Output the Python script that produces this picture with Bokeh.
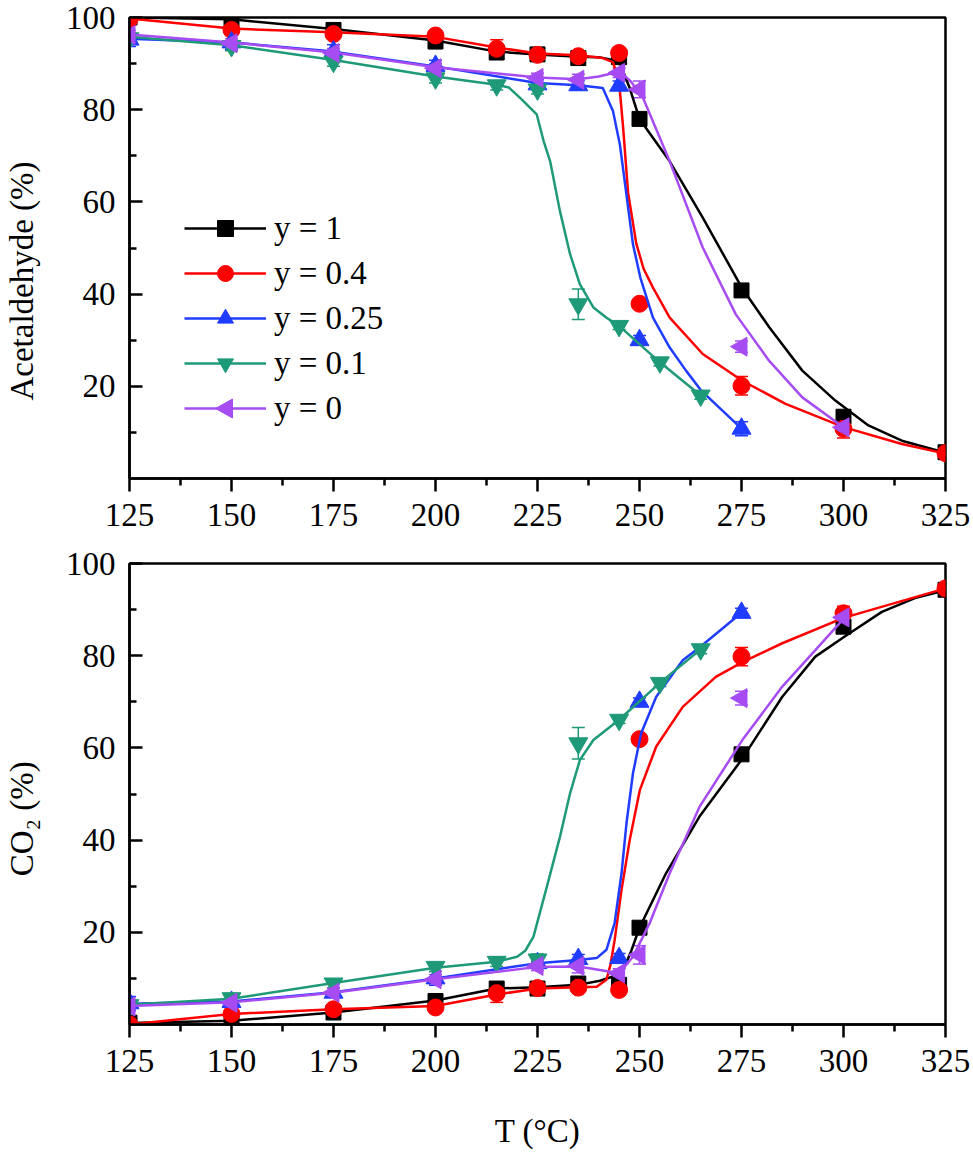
import numpy as np
from bokeh.plotting import figure
from bokeh.models import Range1d, FixedTicker, ColumnDataSource, Whisker, TeeHead, Legend, LegendItem, PolyAnnotation
from bokeh.layouts import column
from bokeh.embed import file_html
from bokeh.resources import INLINE

FONT = "Liberation Serif"
FS = "33px"

labels = ["y = 1", "y = 0.4", "y = 0.25", "y = 0.1", "y = 0"]
colors = ["#000000", "#ff0000", "#1f3cff", "#1f9a78", "#a64cf2"]
markers = ["square", "circle", "triangle", "inverted_triangle", "triangle"]
angles = [0, 0, 0, 0, np.pi / 2]
sizes = [15, 17, 19, 19, 19]

x_ticks = [125, 150, 175, 200, 225, 250, 275, 300, 325]
x_minor = [137.5, 162.5, 187.5, 212.5, 237.5, 262.5, 287.5, 312.5]
y_ticks = [20, 40, 60, 80, 100]
y_minor = [10, 30, 50, 70, 90]

# ---- marker temperatures ----
T1 = [125, 150, 175, 200, 215, 225, 235, 245, 250, 275, 300, 325]
T2 = [125, 150, 175, 200, 215, 225, 235, 245, 250, 275, 300, 325]
T3 = [125, 150, 175, 200, 225, 235, 245, 250, 275]
T4 = [125, 150, 175, 200, 215, 225, 235, 245, 255, 265]
T5 = [125, 150, 175, 200, 225, 235, 245, 250, 275, 300]

# ---- Acetaldehyde conversion (%) ----
ace_y1 = [100.0, 99.5, 97.3, 94.8, 92.4, 92.0, 91.2, 91.4, 78.0, 40.8, 13.4, 5.7]
ace_e1 = [0.5, 0.8, 1.0, 1.5, 1.0, 1.0, 1.2, 1.0, 1.0, 0.8, 1.0, 0.5]
ace_y2 = [99.6, 97.3, 96.4, 96.1, 93.2, 91.9, 91.6, 92.3, 37.9, 20.1, 10.8, 5.5]
ace_e2 = [0.5, 0.8, 0.8, 1.0, 2.0, 1.0, 0.8, 1.2, 0.0, 2.0, 2.0, 0.5]
ace_y3 = [95.2, 94.6, 92.6, 89.5, 85.5, 85.3, 85.2, 30.0, 10.8]
ace_e3 = [1.5, 1.5, 1.5, 1.2, 1.0, 1.0, 1.0, 1.0, 1.5]
ace_y4 = [95.5, 93.8, 90.4, 86.8, 85.3, 84.4, 37.8, 33.1, 25.2, 18.0]
ace_e4 = [1.0, 1.0, 1.0, 1.0, 1.0, 1.0, 3.3, 0.8, 0.8, 0.8]
ace_y5 = [96.2, 94.4, 92.3, 89.0, 86.9, 86.5, 88.0, 84.4, 28.6, 11.1]
ace_e5 = [1.0, 1.0, 1.0, 1.0, 1.0, 1.2, 1.0, 1.8, 1.2, 1.0]

# fitted curves
ace_c1_T = [125, 150, 175, 200, 215, 225, 235, 240, 245, 247.6, 250, 257.4, 265.5, 275, 281.8, 289.9, 298, 306.1, 314.3, 325]
ace_c1_v = [100, 99.6, 97.5, 95, 92.6, 92, 91.5, 91.4, 90.5, 84.7, 78, 68.8, 56.6, 41.5, 32.8, 23.4, 16.9, 11.5, 8.2, 5.6]
ace_c2_T = [125, 150, 175, 200, 215, 225, 235, 241, 243.5, 245, 246, 247.2, 249.2, 251, 253.3, 257.4, 265.5, 275.2, 285.8, 300.2, 314.3, 325]
ace_c2_v = [99.8, 97.6, 96.8, 95.8, 93.5, 92.2, 91.8, 91.2, 90.3, 86, 76, 62, 51, 45.5, 41.4, 34.9, 27, 21.2, 16.2, 11.1, 7.5, 5.4]
ace_c3_T = [125, 150, 175, 200, 225, 235, 241, 243.5, 245.2, 246.8, 248.4, 250.2, 253.3, 257.4, 261.4, 265.2, 275]
ace_c3_v = [95.4, 94.6, 92.6, 89.4, 85.8, 85.3, 84.7, 79.7, 72.4, 61.6, 50.8, 43.6, 34.9, 28.4, 23.4, 19.0, 10.8]
ace_c4_T = [125, 150, 175, 200, 215, 218, 220.8, 224.8, 226.5, 228.1, 230.5, 233, 235.4, 238.7, 242, 245, 255, 265]
ace_c4_v = [95.8, 94.0, 90.8, 87.2, 85.4, 84.8, 82.5, 79, 73.2, 68.8, 58, 48.6, 42.1, 37.1, 34.8, 33.1, 25.2, 18.0]
ace_c5_T = [125, 150, 175, 200, 225, 235, 240, 245.2, 248, 250.9, 257.4, 265.5, 273.6, 281.8, 289.9, 300]
ace_c5_v = [96.3, 94.6, 92.4, 89.2, 87, 86.6, 87.2, 88.3, 86, 82.5, 68.8, 50.1, 35.6, 25.5, 17.6, 11.1]

# ---- CO2 yield (%) ----
co2_y1 = [0.4, 0.6, 2.6, 5.1, 7.8, 7.8, 8.9, 8.6, 21.0, 58.6, 86.3, 94.3]
co2_e1 = [0.3, 0.5, 0.8, 1.2, 1.0, 0.8, 0.8, 1.0, 0.5, 0.8, 1.0, 0.5]
co2_y2 = [0.0, 2.3, 3.3, 3.7, 6.8, 7.9, 8.0, 7.5, 61.9, 79.8, 89.2, 94.6]
co2_e2 = [0.3, 0.8, 0.8, 1.0, 2.0, 1.0, 0.8, 1.0, 0.0, 2.0, 1.5, 0.5]
co2_y3 = [4.6, 4.9, 6.9, 10.0, 13.3, 14.2, 14.4, 70.0, 89.3]
co2_e3 = [1.5, 1.5, 1.0, 1.5, 1.0, 1.0, 1.0, 0.8, 1.0]
co2_y4 = [4.2, 5.7, 8.9, 12.5, 13.6, 14.1, 61.0, 66.1, 74.1, 81.4]
co2_e4 = [1.0, 1.0, 1.0, 1.0, 1.0, 1.2, 3.4, 0.8, 0.8, 1.0]
co2_y5 = [3.9, 4.7, 6.9, 9.8, 12.7, 12.7, 11.1, 15.1, 70.8, 88.3]
co2_e5 = [1.0, 1.0, 1.0, 1.0, 1.0, 1.5, 1.0, 2.0, 1.5, 1.0]

co2_c1_T = [125, 150, 175, 200, 215, 225, 235, 240.3, 243.5, 246, 248, 250, 256.5, 264.7, 275, 285, 293.1, 300.2, 309.4, 317.5, 325]
co2_c1_v = [0.3, 0.8, 2.6, 5.2, 7.8, 8.1, 8.6, 9.5, 10.4, 11.8, 16, 21, 32.8, 45.1, 57.4, 71.1, 79.8, 84.1, 89.5, 92.5, 94.2]
co2_c2_T = [125, 150, 175, 200, 215, 225, 235, 239.5, 241.9, 242.9, 243.9, 245.6, 247.6, 250.1, 254.1, 260.6, 268.7, 275, 285, 300, 325]
co2_c2_v = [0, 2.3, 3.3, 4, 6.5, 7.8, 8.1, 8.2, 9.7, 13, 18.3, 29.2, 40, 50.9, 60.3, 68.9, 75.4, 78.5, 82.7, 88.2, 94.6]
co2_c3_T = [125, 150, 175, 200, 225, 235, 239.5, 241.9, 243.9, 245.6, 246.8, 248.4, 250.4, 254.1, 260.6, 265, 275]
co2_c3_v = [4.5, 5, 7, 10, 13.3, 14, 14.4, 16.2, 22, 32.8, 43.6, 54.5, 63.2, 71.1, 79, 82, 89.3]
co2_c4_T = [125, 150, 175, 200, 215, 220, 222, 224, 227.3, 230.5, 233, 235.4, 238.7, 245, 255, 265]
co2_c4_v = [4.3, 5.6, 9, 12.3, 13.6, 14.7, 16, 19, 29.9, 40.7, 50.2, 57.4, 61.7, 66.1, 74.1, 81.4]
co2_c5_T = [125, 150, 175, 200, 225, 235, 240.3, 245, 248.4, 252.5, 257.4, 264.7, 275.2, 285, 293.1, 300]
co2_c5_v = [4, 4.8, 6.9, 9.8, 12.5, 12.6, 11.8, 11.1, 14.7, 22, 32.8, 47.2, 61.7, 73.3, 81.2, 88]

Ts = [T1, T2, T3, T4, T5]

LEG_X, LEG_Y, ROW_H, GLYPH_W = 55, 50, 45, 82
NB = "\u00a0"


def make_panel(ylabel, vals, errs, curves, height, btop, bbot, xlabel=None, legend=False):
    p = figure(width=973, height=height, x_range=Range1d(125, 325), y_range=Range1d(0, 100),
               output_backend="svg", toolbar_location=None,
               min_border_left=124, min_border_right=28, min_border_top=btop, min_border_bottom=bbot)
    p.xgrid.visible = False
    p.ygrid.visible = False
    p.outline_line_color = "black"
    p.outline_line_width = 2.5
    p.outline_line_alpha = 1

    p.axis.axis_line_width = 2.5
    p.axis.axis_line_color = "black"
    p.axis.major_tick_line_color = "black"
    p.axis.minor_tick_line_color = "black"
    p.axis.major_tick_line_width = 2.5
    p.axis.minor_tick_line_width = 2.5
    p.axis.major_label_text_font = FONT
    p.axis.major_label_text_font_size = FS
    p.axis.major_label_text_color = "black"
    p.axis.axis_label_text_font = FONT
    p.axis.axis_label_text_font_size = FS
    p.axis.axis_label_text_font_style = "normal"
    p.axis.axis_label_text_color = "black"

    xa = p.xaxis[0]
    xa.ticker = FixedTicker(ticks=x_ticks, minor_ticks=x_minor)
    xa.major_tick_out = 13
    xa.major_tick_in = 0
    xa.minor_tick_out = 7
    xa.minor_tick_in = 0
    xa.major_label_standoff = 12
    if xlabel:
        xa.axis_label = xlabel
        xa.axis_label_standoff = 38
    ya = p.yaxis[0]
    ya.ticker = FixedTicker(ticks=y_ticks, minor_ticks=y_minor)
    ya.major_tick_in = 13
    ya.major_tick_out = 0
    ya.minor_tick_in = 7
    ya.minor_tick_out = 0
    ya.major_label_standoff = 14
    ya.axis_label = ylabel
    ya.axis_label_standoff = 23

    items = []
    for i in range(5):
        c = colors[i]
        cT, cv = curves[i]
        lr = p.line(cT, cv, line_color=c, line_width=2.5)
        up = [v + e for v, e in zip(vals[i], errs[i])]
        lo = [v - e for v, e in zip(vals[i], errs[i])]
        src = ColumnDataSource(dict(x=Ts[i], y=vals[i], upper=up, lower=lo))
        sr = p.scatter("x", "y", source=src, marker=markers[i], size=sizes[i], angle=angles[i],
                       fill_color=c, line_color=c, line_width=1)
        w = Whisker(source=src, base="x", upper="upper", lower="lower", dimension="height",
                    line_color=c, line_width=1.5,
                    upper_head=TeeHead(size=13, line_color=c, line_width=1.5),
                    lower_head=TeeHead(size=13, line_color=c, line_width=1.5))
        p.add_layout(w)
        # legends do not rotate markers: the left-pointing triangle is drawn separately below
        rends = [lr] if angles[i] else [lr, sr]
        items.append(LegendItem(label=labels[i], renderers=rends))

    if legend:
        lg = Legend(items=items, location=(LEG_X, LEG_Y))
        lg.background_fill_alpha = 0
        lg.border_line_alpha = 0
        lg.label_text_font = FONT
        lg.label_text_font_size = FS
        lg.label_text_color = "black"
        lg.glyph_width = GLYPH_W
        lg.glyph_height = 40
        lg.label_height = 40
        lg.spacing = ROW_H - 40
        lg.padding = 0
        lg.margin = 0
        lg.label_standoff = 8
        p.add_layout(lg)
        cx = LEG_X + GLYPH_W / 2
        cy = LEG_Y + 20
        tri = PolyAnnotation(xs=[cx - 10, cx + 7, cx + 7], ys=[cy, cy + 9.5, cy - 9.5],
                             xs_units="screen", ys_units="screen",
                             fill_color=colors[4], fill_alpha=1, line_color=colors[4], line_alpha=1,
                             line_width=1, level="overlay")
        p.add_layout(tri)
    return p


ace_curves = [(ace_c1_T, ace_c1_v), (ace_c2_T, ace_c2_v), (ace_c3_T, ace_c3_v), (ace_c4_T, ace_c4_v), (ace_c5_T, ace_c5_v)]
co2_curves = [(co2_c1_T, co2_c1_v), (co2_c2_T, co2_c2_v), (co2_c3_T, co2_c3_v), (co2_c4_T, co2_c4_v), (co2_c5_T, co2_c5_v)]

p1 = make_panel("Acetaldehyde (%)" + NB * 8, [ace_y1, ace_y2, ace_y3, ace_y4, ace_y5],
                [ace_e1, ace_e2, ace_e3, ace_e4, ace_e5], ace_curves,
                height=540, btop=17, bbot=62, legend=True)
p2 = make_panel("CO\u2082 (%)" + NB * 6, [co2_y1, co2_y2, co2_y3, co2_y4, co2_y5],
                [co2_e1, co2_e2, co2_e3, co2_e4, co2_e5], co2_curves,
                height=613, btop=23, bbot=129, xlabel="T (\u00b0C)")

layout = column(p1, p2, spacing=0)
open("out.html", "w").write(file_html(layout, INLINE))
